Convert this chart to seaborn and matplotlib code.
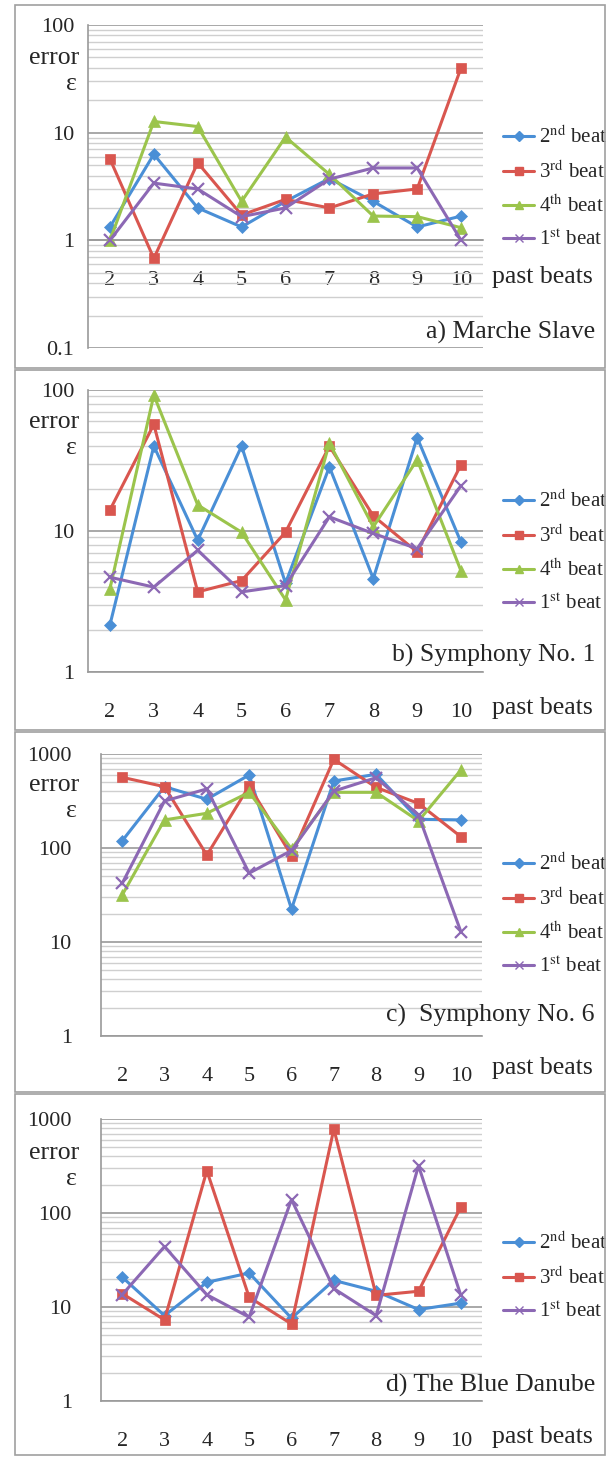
import matplotlib
matplotlib.use('Agg')
import matplotlib.pyplot as plt
from matplotlib.patches import Rectangle
from matplotlib.lines import Line2D
from matplotlib.ticker import LogLocator, FixedLocator, NullFormatter, FuncFormatter
import seaborn as sns

past = [2, 3, 4, 5, 6, 7, 8, 9, 10]

# a) Marche Slave
a_beat2 = [1.33, 6.3, 2.0, 1.33, 2.3, 3.75, 2.3, 1.33, 1.68]
a_beat3 = [5.7, 0.68, 5.25, 1.72, 2.4, 2.0, 2.7, 3.0, 40]
a_beat4 = [1.0, 12.7, 11.4, 2.3, 9.1, 4.1, 1.68, 1.66, 1.31]
a_beat1 = [1.0, 3.4, 3.0, 1.66, 2.0, 3.7, 4.7, 4.7, 1.0]

# b) Symphony No. 1
b_beat2 = [2.16, 40, 8.6, 40, 4.26, 28.5, 4.6, 46, 8.3]
b_beat3 = [14.1, 57, 3.7, 4.45, 9.8, 40, 12.8, 7.1, 29.6]
b_beat4 = [3.9, 92, 15.3, 9.8, 3.25, 42, 10.7, 32, 5.2]
b_beat1 = [4.7, 4.0, 7.3, 3.7, 4.1, 12.6, 9.6, 7.5, 21]

# c) Symphony No. 6
c_beat2 = [119, 449, 330, 598, 22.4, 516, 608, 202, 199]
c_beat3 = [565, 449, 84, 457, 83, 877, 441, 298, 132]
c_beat4 = [31.6, 199, 234, 391, 98, 391, 391, 194, 675]
c_beat1 = [42, 316, 425, 54, 94, 403, 560, 224, 12.9]

# d) The Blue Danube
d_beat2 = [20.8, 8.1, 18.3, 23, 7.6, 19.2, 14.7, 9.4, 11]
d_beat3 = [13.9, 7.3, 282, 12.7, 6.6, 783, 13.3, 14.7, 116]
d_beat1 = [13.5, 44, 13.5, 7.8, 139, 15.7, 8.1, 319, 13.3]

labels = {'2': r'2$^{\mathrm{nd}}$ beat', '3': r'3$^{\mathrm{rd}}$ beat',
          '4': r'4$^{\mathrm{th}}$ beat', '1': r'1$^{\mathrm{st}}$ beat'}
colors = {'2': '#4a8fd6', '3': '#d9564f', '4': '#9bc44c', '1': '#8c68b4'}
markers = {'2': 'D', '3': 's', '4': '^', '1': 'x'}
msize = {'2': 6, '3': 7.5, '4': 8, '1': 8}

sns.set_style('white')
plt.rcParams['font.family'] = ['Liberation Serif', 'DejaVu Serif']
plt.rcParams['mathtext.fontset'] = 'stix'

W, H = 608, 1458
fig = plt.figure(figsize=(W / 100, H / 100), dpi=100)


def rect(x0, y0, x1, y1):
    return [x0 / W, 1 - y1 / H, (x1 - x0) / W, (y1 - y0) / H]


def ftext(x, y, s, **kw):
    fig.text(x / W, 1 - y / H, s, **kw)


panels = [
    dict(frame=(15, 5, 605, 368), box=(88, 25, 483, 348), ylim=(0.1, 100), cross=1,
         series=[('2', a_beat2), ('3', a_beat3), ('4', a_beat4), ('1', a_beat1)],
         leg=188, lab=277, err=58, title='a) Marche Slave', ty=332, pad=3),
    dict(frame=(15, 370, 605, 730), box=(88, 390, 483, 672), ylim=(1, 100), cross=None,
         series=[('2', b_beat2), ('3', b_beat3), ('4', b_beat4), ('1', b_beat1)],
         leg=552, lab=708, err=422, title='b) Symphony No. 1', ty=655, pad=3),
    dict(frame=(15, 732, 605, 1092), box=(101, 754, 482, 1036), ylim=(1, 1000), cross=None,
         series=[('2', c_beat2), ('3', c_beat3), ('4', c_beat4), ('1', c_beat1)],
         leg=915, lab=1068, err=785, title='c)  Symphony No. 6', ty=1015, pad=14),
    dict(frame=(15, 1094, 605, 1455), box=(101, 1119, 482, 1401), ylim=(1, 1000), cross=None,
         series=[('2', d_beat2), ('3', d_beat3), ('1', d_beat1)],
         leg=1277, lab=1437, err=1153, title='d) The Blue Danube', ty=1385, pad=14),
]

for p in panels:
    fx0, fy0, fx1, fy1 = p['frame']
    fig.add_artist(Rectangle((fx0 / W, 1 - fy1 / H), (fx1 - fx0) / W, (fy1 - fy0) / H,
                             transform=fig.transFigure, fill=False, ec='#a0a0a0', lw=1.2))
    ax = fig.add_axes(rect(*p['box']))
    ax.set_yscale('log')
    ax.set_ylim(*p['ylim'])
    ax.set_xlim(1.5, 10.5)

    handles = []
    for key, vals in p['series']:
        sns.lineplot(x=past, y=vals, ax=ax, color=colors[key], marker=markers[key],
                     markersize=msize[key], markeredgecolor=colors[key],
                     markeredgewidth=1.6 if key == '1' else 0.5, linewidth=2.2,
                     sort=False, legend=False, zorder=3)
        handles.append(Line2D([], [], color=colors[key], marker=markers[key],
                              markersize=msize[key] * 0.8, markeredgecolor=colors[key],
                              lw=2.2, label=labels[key]))

    # grid
    ax.yaxis.set_major_locator(LogLocator(base=10, numticks=10))
    ax.yaxis.set_minor_locator(LogLocator(base=10, subs=range(2, 10), numticks=10))
    ax.yaxis.set_minor_formatter(NullFormatter())
    ax.yaxis.set_major_formatter(FuncFormatter(lambda v, _: ('%g' % v)))
    ax.grid(True, which='major', axis='y', color='#9a9a9a', lw=1.2, zorder=0)
    ax.grid(True, which='minor', axis='y', color='#cfcfcf', lw=1.0, zorder=0)
    ax.set_axisbelow(True)
    ax.tick_params(axis='y', which='major', length=7, color='#9a9a9a', width=1.2,
                   labelsize=16, pad=p['pad'])
    ax.tick_params(axis='y', which='minor', length=0)

    ax.set_xticks(past)
    ax.set_xticklabels([str(v) for v in past])
    ax.xaxis.set_minor_locator(FixedLocator([v + 0.5 for v in range(1, 11)]))
    ax.tick_params(axis='x', which='major', length=0, labelsize=16, pad=22)
    ax.tick_params(axis='x', which='minor', length=5, color='#9a9a9a', width=1.2,
                   direction='out')

    for s in ['top', 'right']:
        ax.spines[s].set_visible(False)
    for s in ['left', 'bottom']:
        ax.spines[s].set_color('#9a9a9a')
        ax.spines[s].set_linewidth(1.2)
    if p['cross'] is not None:
        ax.spines['bottom'].set_position(('data', p['cross']))

    ax.set_xlabel('')
    ax.set_ylabel('')

    ax.legend(handles=handles, loc='center left', frameon=False,
              bbox_to_anchor=(503 / W, 1 - p['leg'] / H), bbox_transform=fig.transFigure,
              fontsize=15, handlelength=1.5, handletextpad=0.25, labelspacing=0.6,
              borderaxespad=0, borderpad=0)

    ftext(492, p['lab'], 'past beats', fontsize=18.5, va='center', ha='left')
    ftext(79, p['err'], 'error', fontsize=18.5, va='center', ha='right')
    ftext(77, p['err'] + 26, 'ε', fontsize=18.5, va='center', ha='right')
    ftext(595, p['ty'], p['title'], fontsize=18.5, va='center', ha='right')

fig.savefig('out.png', dpi=100, facecolor='white')
